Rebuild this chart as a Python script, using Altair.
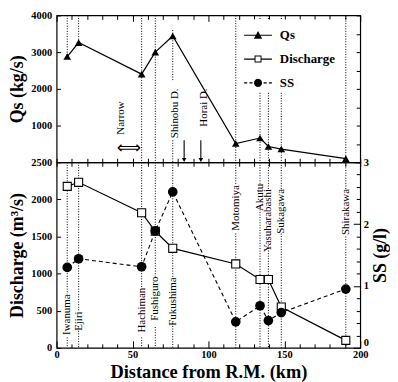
import altair as alt
import pandas as pd

SERIF = "Liberation Serif"

# ---------------- data ----------------
stations = ["Iwanuma", "Ejiri", "Hachiman", "Fushiguro", "Fukushima",
            "Motomiya", "Akutu", "Yasuharabashi", "Sukagawa", "Shirakawa"]
station_km = [7, 14.5, 56, 65, 76.5, 118, 134, 139.5, 148, 190.5]
qs_values = [2880, 3260, 2400, 3000, 3440, 510, 660, 430, 360, 100]
discharge_values = [2175, 2230, 1820, 1570, 1340, 1130, 920, 920, 550, 100]
ss_values = [1.30, 1.44, 1.31, 1.89, 2.52, 0.42, 0.68, 0.44, 0.57, 0.95]

# top of each rotated station label (discharge units)
label_top = [720, 490, 810, 960, 950, 2190, 2210, 2140, 2140, 2140]
# bottom end of each station label (discharge units)
label_bottom = [140, 230, 140, 280, 330, 1540, 1900, 1380, 1540, 1500]

# dotted station guides in the Qs panel
top_guide_station = ["Iwanuma", "Ejiri", "Hachiman", "Fushiguro", "Fukushima",
                     "Fukushima", "Motomiya", "Akutu", "Yasuharabashi",
                     "Sukagawa", "Shirakawa"]
top_guide_from = [4000, 4000, 4000, 4000, 3600, 600, 4000, 4000, 4000, 4000, 4000]
top_guide_to = [2880, 3260, 0, 0, 2200, 0, 0, 0, 0, 0, 0]

# annotations in the Qs panel
notes = ["Narrow", "Shinobu D.", "Horai D."]
note_km = [42.5, 78, 97]
note_top_qs = [1660, 2010, 2010]
dam_km = [84, 95]
dam_from_qs = [600, 600]
dam_to_qs = [60, 60]
narrow_km = [47.5]
narrow_qs = [400]

legend_labels = ["Qs", "Discharge", "SS"]
legend_symbols = [
    "M-1,-0.04H1V0.04H-1Z M-0.3,0.25L0,-0.3L0.3,0.25Z",
    "M-1,-0.04H-0.25V0.04H-1Z M0.25,-0.04H1V0.04H0.25Z "
    "M-0.25,-0.25H0.25V0.25H-0.25Z M-0.18,-0.18V0.18H0.18V-0.18Z",
    "M-1,-0.04H-0.78V0.04H-1Z M-0.62,-0.04H-0.4V0.04H-0.62Z "
    "M0.4,-0.04H0.62V0.04H0.4Z M0.78,-0.04H1V0.04H0.78Z "
    "M-0.29,0a0.29,0.29 0 1,0 0.58,0a0.29,0.29 0 1,0 -0.58,0Z",
]

km_ticks = list(range(0, 201, 10))
qs_right_ticks = list(range(0, 4001, 500))
ss_ticks = [round(i * 0.2, 1) for i in range(16)]

W, HT, HB = 306, 148, 187

# ---------------- tables ----------------
km_of = dict(zip(stations, station_km))
st_df = pd.DataFrame({"station": stations, "km": station_km, "qs": qs_values,
                      "dis": discharge_values, "ss": ss_values,
                      "ltop": label_top})
top_guides = pd.DataFrame({"km": [km_of[s] for s in top_guide_station],
                           "y1": top_guide_from, "y2": top_guide_to})
bot_guides = pd.DataFrame({"km": station_km + station_km,
                           "y1": [2500] * len(stations) + label_bottom,
                           "y2": label_top + [0] * len(stations)})
notes_df = pd.DataFrame({"note": notes, "km": note_km, "qs": note_top_qs})
dam_df = pd.DataFrame({"km": dam_km, "y1": dam_from_qs, "y2": dam_to_qs})
narrow_df = pd.DataFrame({"km": narrow_km, "qs": narrow_qs})
leg_df = pd.DataFrame({"leg": legend_labels})

xs = alt.Scale(domain=[0, 200], nice=False, zero=False)
qs_s = alt.Scale(domain=[0, 4000], nice=False)
dis_s = alt.Scale(domain=[0, 2500], nice=False)
ss_s = alt.Scale(domain=[0, 3], nice=False)

X0 = lambda f="km:Q": alt.X(f, scale=xs, axis=None)

# ---------------- top panel (Qs) ----------------
top_guide_layer = alt.Chart(top_guides).mark_rule(
    color="black", strokeWidth=1, strokeDash=[1, 1.6]).encode(
    x=alt.X("km:Q", scale=xs, axis=alt.Axis(
        orient="top", values=km_ticks, labels=False, domain=False, title=None,
        tickSize={"expr": "datum.value % 50 === 0 ? -6 : -4"}, tickWidth=1)),
    y=alt.Y("y1:Q", scale=qs_s, axis=None), y2="y2:Q")

qs_line = alt.Chart(st_df).mark_line(color="black", strokeWidth=1.2).encode(
    x=alt.X("km:Q", scale=xs, axis=alt.Axis(
        orient="bottom", values=km_ticks, labels=False, domain=False,
        title=None, tickSize=8, offset=-4, tickWidth=1)),
    y=alt.Y("qs:Q", scale=qs_s, axis=alt.Axis(
        orient="left", values=[1000, 2000, 3000, 4000], title="Qs (kg/s)",
        format="d", domain=False, tickSize={"expr": "-4"}, labelPadding=9,
        titlePadding=4)))

qs_pts = alt.Chart(st_df).mark_point(
    shape="triangle-up", filled=True, color="black", size=60, opacity=1).encode(
    x=X0(),
    y=alt.Y("qs:Q", scale=qs_s, axis=alt.Axis(
        orient="right", values=qs_right_ticks, labels=False, domain=False,
        title=None, tickSize={"expr": "-4"})))

note_text = alt.Chart(notes_df).mark_text(
    angle=270, align="right", baseline="middle", font=SERIF, fontSize=11,
    color="black").encode(
    x=X0(), y=alt.Y("qs:Q", scale=qs_s, axis=None), text="note:N")

dam_rule = alt.Chart(dam_df).mark_rule(color="black", strokeWidth=1.1).encode(
    x=X0(), y=alt.Y("y1:Q", scale=qs_s, axis=None), y2="y2:Q")
dam_head = alt.Chart(dam_df).mark_point(
    shape="triangle-down", filled=True, color="black", size=22,
    opacity=1).encode(x=X0(), y=alt.Y("y2:Q", scale=qs_s, axis=None))

narrow_arrow = alt.Chart(narrow_df).mark_text(
    text="\u27fa", font="DejaVu Sans", fontSize=17, color="black").encode(
    x=X0(), y=alt.Y("qs:Q", scale=qs_s, axis=None))

legend_layer = alt.Chart(leg_df).mark_point(
    filled=True, color="black", size=784, opacity=1).encode(
    shape=alt.Shape("leg:N", scale=alt.Scale(domain=legend_labels,
                                             range=legend_symbols),
                    legend=alt.Legend(
                        title=None, orient="none", legendX=187, legendY=4,
                        symbolSize=784, symbolStrokeWidth=0,
                        symbolFillColor="black", labelFont=SERIF,
                        labelFontSize=13, labelFontWeight="bold",
                        labelColor="black", labelOffset=8, rowPadding=3,
                        padding=2, fillColor="white"))
).transform_filter("false")

top = alt.layer(top_guide_layer, qs_line, qs_pts, note_text, dam_rule,
                dam_head, narrow_arrow, legend_layer).resolve_axis(
    x="independent", y="independent").properties(width=W, height=HT)

# ---------------- bottom panel (Discharge, SS) ----------------
bot_guide_layer = alt.Chart(bot_guides).mark_rule(
    color="black", strokeWidth=1, strokeDash=[1, 1.6]).encode(
    x=alt.X("km:Q", scale=xs, axis=alt.Axis(
        orient="bottom", values=km_ticks, domain=False,
        title="Distance from R.M. (km)", titleFontSize=18.5,
        labelExpr="datum.value % 50 === 0 ? datum.label : ''",
        tickSize={"expr": "datum.value % 50 === 0 ? -7 : -4"},
        labelPadding=9, labelFlush=False, titlePadding=2)),
    y=alt.Y("y1:Q", scale=dis_s, axis=alt.Axis(
        orient="left", values=[0, 500, 1000, 1500, 2000, 2500], format="d",
        title="Discharge (m\u00b3/s)", domain=False,
        tickSize={"expr": "-4"}, labelPadding=9, titlePadding=4)),
    y2="y2:Q")

st_labels = alt.Chart(st_df).mark_text(
    angle=270, align="right", baseline="middle", font=SERIF, fontSize=11,
    color="black").encode(
    x=X0(), y=alt.Y("ltop:Q", scale=dis_s, axis=None), text="station:N")

dis_line = alt.Chart(st_df).mark_line(color="black", strokeWidth=1.2).encode(
    x=X0(), y=alt.Y("dis:Q", scale=dis_s, axis=None))
dis_pts = alt.Chart(st_df).mark_point(
    shape="square", filled=False, fill="white", stroke="black",
    strokeWidth=1.1, size=66, opacity=1).encode(
    x=X0(), y=alt.Y("dis:Q", scale=dis_s, axis=None))

dis_layer = alt.layer(bot_guide_layer, st_labels, dis_line, dis_pts).resolve_axis(
    x="independent", y="independent")

ss_line = alt.Chart(st_df).mark_line(
    color="black", strokeWidth=1.1, strokeDash=[4, 3]).encode(
    x=X0(),
    y=alt.Y("ss:Q", scale=ss_s, axis=alt.Axis(
        orient="right", values=ss_ticks, title="SS (g/l)", titleAngle=270,
        titleBaseline="top", domain=False,
        labelExpr="abs(datum.value - round(datum.value)) < 0.01 ? format(datum.value, 'd') : ''",
        labelBaseline={"condition": {"test": "datum.value === 0",
                                     "value": "bottom"},
                       "value": "middle"},
        tickSize={"expr": "abs(datum.value - round(datum.value)) < 0.01 ? -7 : -4"},
        labelPadding=10, titlePadding=3)))
ss_pts = alt.Chart(st_df).mark_point(
    shape="circle", filled=True, color="black", size=95, opacity=1).encode(
    x=X0(), y=alt.Y("ss:Q", scale=ss_s, axis=None))

ss_layer = alt.layer(ss_line, ss_pts).resolve_axis(x="independent",
                                                   y="independent")

bottom = alt.layer(dis_layer, ss_layer).resolve_scale(
    y="independent").resolve_axis(x="independent", y="independent").properties(
    width=W, height=HB)

chart = alt.vconcat(top, bottom, spacing=0, bounds="flush").properties(
    padding={"left": 0, "top": 0, "right": 0, "bottom": 0}
).configure_view(stroke="black", strokeWidth=1.2).configure_axis(
    labelFont=SERIF, labelFontSize=10.5, labelFontWeight="bold",
    labelColor="black", titleFont=SERIF, titleFontSize=18,
    titleFontWeight="bold", titleColor="black", tickColor="black",
    grid=False)

chart.save("out.html", embed_options={"renderer": "svg", "actions": False})
